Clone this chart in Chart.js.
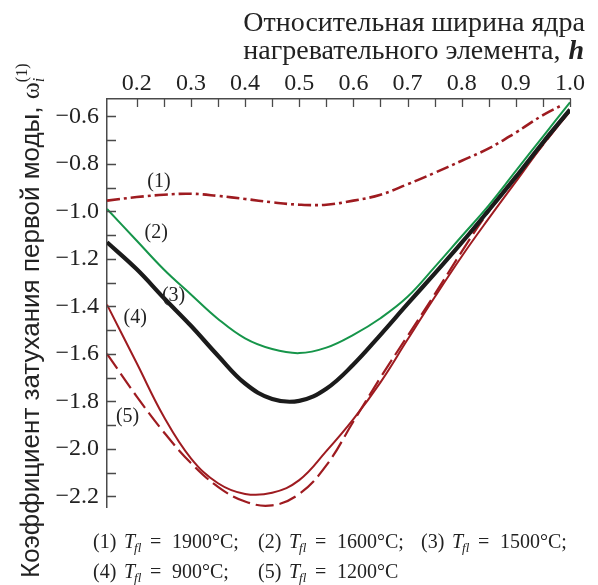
<!DOCTYPE html>
<html>
<head>
<meta charset="utf-8">
<script src="https://cdn.jsdelivr.net/npm/chart.js@4/dist/chart.umd.min.js"></script>
<style>
html,body{margin:0;padding:0;background:#fff;}
#wrap{width:598px;height:585px;position:relative;}
</style>
</head>
<body>
<div id="wrap"><canvas id="c" width="598" height="585"></canvas></div>
<script>
// ---- data ----
const hValues = [0.145,0.2,0.25,0.3,0.35,0.4,0.45,0.5,0.55,0.6,0.65,0.7,0.75,0.8,0.85,0.9,0.95,1.0];
const h1900   = [0.145,0.2,0.25,0.3,0.35,0.4,0.45,0.5,0.55,0.6,0.65,0.7,0.75,0.8,0.85,0.9,0.95,0.985];
const t1900 = [-0.955,-0.94,-0.93,-0.926,-0.935,-0.948,-0.962,-0.972,-0.972,-0.955,-0.93,-0.886,-0.838,-0.787,-0.735,-0.668,-0.595,-0.553];
const t1600 = [-0.99,-1.124,-1.245,-1.35,-1.453,-1.535,-1.58,-1.597,-1.574,-1.52,-1.45,-1.36,-1.235,-1.105,-0.975,-0.83,-0.685,-0.541];
const t1500 = [-1.13,-1.244,-1.365,-1.482,-1.608,-1.725,-1.79,-1.798,-1.747,-1.645,-1.52,-1.39,-1.262,-1.132,-0.995,-0.855,-0.71,-0.572];
const t900  = [-1.393,-1.64,-1.865,-2.04,-2.145,-2.19,-2.185,-2.132,-2.01,-1.875,-1.72,-1.54,-1.362,-1.19,-1.03,-0.875,-0.72,-0.579];
const t1200 = [-1.6,-1.78,-1.93,-2.06,-2.16,-2.222,-2.238,-2.19,-2.07,-1.885,-1.70,-1.525,-1.35,-1.17,-1.0,-0.86,-0.72,-0.575];

const xTicks = [0.2,0.3,0.4,0.5,0.6,0.7,0.8,0.9,1.0];
const xTickLabels = ['0.2','0.3','0.4','0.5','0.6','0.7','0.8','0.9','1.0'];
const yTicks = [-2.2,-2.0,-1.8,-1.6,-1.4,-1.2,-1.0,-0.8,-0.6];
const yTickLabels = ['\u22122.2','\u22122.0','\u22121.8','\u22121.6','\u22121.4','\u22121.2','\u22121.0','\u22120.8','\u22120.6'];
const xMinorTicks = [0.2,0.25,0.3,0.35,0.4,0.45,0.5,0.55,0.6,0.65,0.7,0.75,0.8,0.85,0.9,0.95,1.0];
const yMinorTicks = [-2.2,-2.1,-2.0,-1.9,-1.8,-1.7,-1.6,-1.5,-1.4,-1.3,-1.2,-1.1,-1.0,-0.9,-0.8,-0.7,-0.6];

const curveLabels = ['(1)','(2)','(3)','(4)','(5)'];
const curveLabelX = [0.241,0.236,0.268,0.197,0.183];
const curveLabelY = [-0.874,-1.090,-1.354,-1.449,-1.865];

const xTitleLines = ['Относительная ширина ядра','нагревательного элемента, '];
const yTitleText = 'Коэффициент затухания первой моды, ';
const legendRow1 = [['(1)','1900°C;'],['(2)','1600°C;'],['(3)','1500°C;']];
const legendRow2 = [['(4)','900°C;'],['(5)','1200°C']];

const RED = '#9e1b20', GREEN = '#16954a', BLACK = '#1b1b1b';
const SERIF = '"Liberation Serif","Times New Roman",serif';
const SANS = '"Liberation Sans",Arial,sans-serif';

function pts(xs, ys){ return xs.map((x,i)=>({x:x,y:ys[i]})); }

const decoPlugin = {
  id:'deco',
  afterDraw(chart){
    const ctx = chart.ctx, xs = chart.scales.x, ys = chart.scales.y;
    const a = chart.chartArea;
    ctx.save();
    // inward ticks
    ctx.strokeStyle = '#4a4a4a'; ctx.lineWidth = 1.3;
    ctx.beginPath();
    xMinorTicks.forEach(v=>{ const px = Math.round(xs.getPixelForValue(v))+0.5; ctx.moveTo(px,a.top); ctx.lineTo(px,a.top+8); });
    yMinorTicks.forEach(v=>{ const py = Math.round(ys.getPixelForValue(v))+0.5; ctx.moveTo(a.left,py); ctx.lineTo(a.left+9,py); });
    ctx.stroke();
    // curve labels
    ctx.fillStyle = '#222'; ctx.font = '20px '+SERIF; ctx.textAlign='center'; ctx.textBaseline='middle';
    curveLabels.forEach((t,i)=>{ ctx.fillText(t, xs.getPixelForValue(curveLabelX[i]), ys.getPixelForValue(curveLabelY[i])); });
    // x title
    ctx.textAlign='right'; ctx.textBaseline='alphabetic';
    ctx.font = '28px '+SERIF;
    ctx.fillText(xTitleLines[0], 585, 31);
    ctx.font = 'italic bold 28px '+SERIF;
    const hw = ctx.measureText('h').width;
    ctx.fillText('h', 584, 59);
    ctx.font = '28px '+SERIF;
    ctx.fillText(xTitleLines[1], 584-hw-1, 59);
    // y title
    ctx.save();
    ctx.translate(39, 578);
    ctx.rotate(-Math.PI/2);
    ctx.textAlign='left'; ctx.textBaseline='alphabetic';
    ctx.font = '26px '+SANS;
    ctx.fillText(yTitleText, 0, 0);
    let w = ctx.measureText(yTitleText).width;
    ctx.font = '26px '+SERIF;
    ctx.fillText('ω', w, 0);
    w += ctx.measureText('ω').width;
    ctx.font = 'italic 16px '+SERIF;
    ctx.fillText('i', w, 5);
    ctx.font = '16px '+SERIF;
    ctx.fillText('(1)', w, -12);
    ctx.restore();
    // legend
    function row(items, y, xs0){
      items.forEach((it,i)=>{
        const x = xs0[i];
        ctx.font = '20px '+SERIF; ctx.fillText(it[0], x, y);
        ctx.font = 'italic 20px '+SERIF; ctx.fillText('T', x+31, y);
        const tw = ctx.measureText('T').width;
        ctx.font = 'italic 13px '+SERIF; ctx.fillText('fl', x+31+tw-1, y+4);
        ctx.font = '20px '+SERIF; ctx.fillText('=', x+57, y);
        ctx.fillText(it[1], x+79, y);
      });
    }
    ctx.textAlign='left'; ctx.textBaseline='alphabetic'; ctx.fillStyle='#222';
    row(legendRow1, 548, [93,258,421]);
    row(legendRow2, 578, [93,258]);
    ctx.restore();
  }
};

new Chart(document.getElementById('c'), {
  type:'line',
  data:{ datasets:[
    {data:pts(h1900,t1900), borderColor:RED, borderWidth:2.6, borderDash:[13,4,3,4]},
    {data:pts(hValues,t1600), borderColor:GREEN, borderWidth:2},
    {data:pts(hValues,t1500), borderColor:BLACK, borderWidth:4.2},
    {data:pts(hValues,t900), borderColor:RED, borderWidth:2},
    {data:pts(hValues,t1200), borderColor:RED, borderWidth:2.2, borderDash:[18,6]}
  ]},
  options:{
    responsive:false, animation:false,
    layout:{padding:{left:0,top:0,right:28,bottom:78}},
    elements:{point:{radius:0}, line:{tension:0.4, fill:false}},
    plugins:{legend:{display:false}, tooltip:{enabled:false}},
    scales:{
      x:{type:'linear', position:'top', min:0.145, max:1.0,
        afterBuildTicks(s){ s.ticks = xTicks.map(v=>({value:v})); },
        afterFit(s){ s.height = 99; },
        grid:{display:false, drawTicks:false},
        border:{display:true, color:'#4a4a4a', width:1.5},
        ticks:{padding:1, color:'#222', font:{family:SERIF, size:24}, maxRotation:0, autoSkip:false,
          callback(v){ const i = xTicks.findIndex(t=>Math.abs(t-v)<1e-6); return i>=0?xTickLabels[i]:''; }}
      },
      y:{type:'linear', min:-2.245, max:-0.527,
        afterBuildTicks(s){ s.ticks = yTicks.map(v=>({value:v})); },
        afterFit(s){ s.width = 107; },
        grid:{display:false, drawTicks:false},
        border:{display:true, color:'#4a4a4a', width:1.5},
        ticks:{padding:8, color:'#222', font:{family:SERIF, size:24}, autoSkip:false,
          callback(v){ const i = yTicks.findIndex(t=>Math.abs(t-v)<1e-6); return i>=0?yTickLabels[i]:''; }}
      }
    }
  },
  plugins:[decoPlugin]
});
</script>
</body>
</html>
